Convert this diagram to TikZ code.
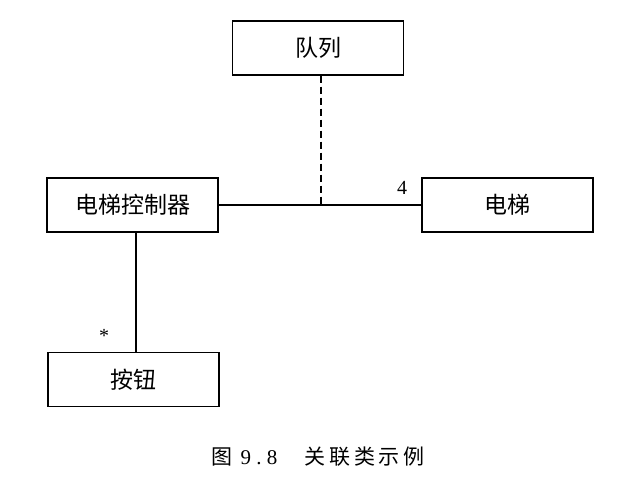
\documentclass[tikz,border=0pt]{standalone}
\usepackage{fontspec}
\newfontfamily\cjk{Noto Sans CJK SC}
\setmainfont{Liberation Serif}
\begin{document}
\begin{tikzpicture}[x=1pt,y=-1pt,
  cls/.style={draw, line width=1.1pt, minimum width=171pt, minimum height=54pt, inner sep=0pt, font=\cjk\fontsize{23}{26}\selectfont},
  conn/.style={line width=1.1pt}]
\useasboundingbox (0,0) rectangle (643,479);
\node[cls] (queue) at (318,48) {队列};
\node[cls] (ctrl) at (132.5,205) {电梯控制器};
\node[cls] (elev) at (507.5,205) {电梯};
\node[cls] (btn) at (133.5,379.5) {按钮};
\draw[conn] (ctrl.east) -- (elev.west);
\coordinate (mid) at (321,205);
\draw[conn, dash pattern=on 7pt off 4pt] (queue.south -| mid) -- (mid);
\draw[conn] (ctrl.south -| 136,0) -- (btn.north -| 136,0);
\node[font=\fontsize{20}{22}\selectfont] (m4) at (402,188) {4};
\node[font=\fontsize{20}{22}\selectfont] (mstar) at (104,336) {*};
\node[font=\cjk\fontsize{21}{24}\selectfont] (cap) at (318,457) {图\hspace{0.4em}{\fontspec{Liberation Serif}9\hspace{0.25em}.\hspace{0.25em}8}\hspace{1.3em}关\hspace{0.18em}联\hspace{0.18em}类\hspace{0.18em}示\hspace{0.18em}例};
\end{tikzpicture}
\end{document}
